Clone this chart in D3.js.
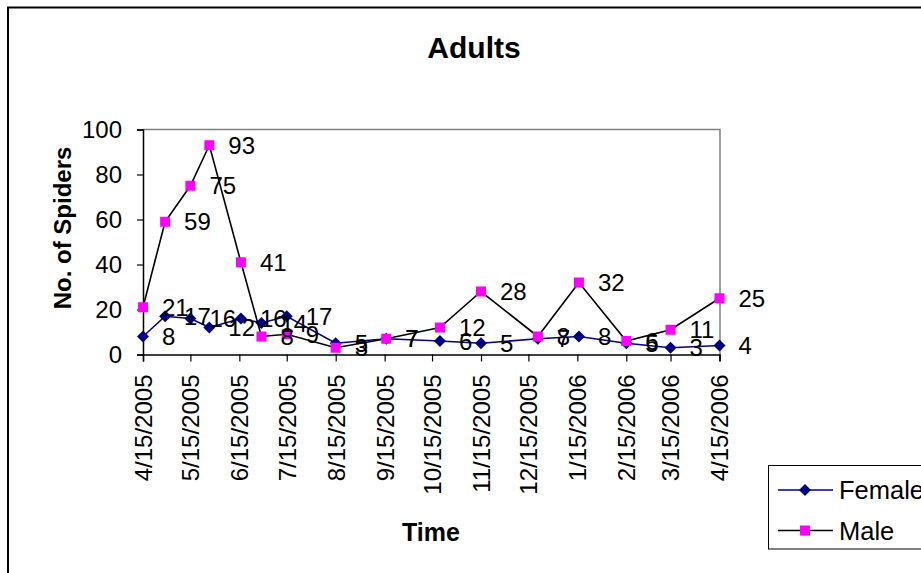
<!DOCTYPE html>
<html>
<head>
<meta charset="utf-8">
<script src="https://cdn.jsdelivr.net/npm/d3@7"></script>
<style>
  html, body { margin: 0; padding: 0; background: #fff; overflow: hidden; }
  svg { display: block; font-family: "Liberation Sans", Arial, sans-serif; }
</style>
</head>
<body>
<svg id="chart" width="921" height="573"></svg>
<script>
// Sampling dates and spider counts
const sampleDates = ["4/15/2005","4/29/2005","5/15/2005","5/27/2005","6/16/2005","6/29/2005","7/15/2005","8/15/2005",
                     "9/16/2005","10/20/2005","11/15/2005","12/21/2005","1/16/2006","2/15/2006","3/15/2006","4/15/2006"];
const femaleCounts = [8, 17, 16, 12, 16, 14, 17, 5, 7, 6, 5, 7, 8, 5, 3, 4];
const maleCounts   = [21, 59, 75, 93, 41, 8, 9, 3, 7, 12, 28, 8, 32, 6, 11, 25];

// Axis ticks
const xTickLabels = ["4/15/2005","5/15/2005","6/15/2005","7/15/2005","8/15/2005","9/15/2005","10/15/2005",
                     "11/15/2005","12/15/2005","1/15/2006","2/15/2006","3/15/2006","4/15/2006"];
const yTicks = [0, 20, 40, 60, 80, 100];

const parse = d3.timeParse("%m/%d/%Y");
const fmt = d3.timeFormat("%-m/%-d/%Y");

const svg = d3.select("#chart");

// Chart area frame
svg.append("rect")
  .attr("x", 8).attr("y", 7.5).attr("width", 960).attr("height", 600)
  .attr("fill", "#fff").attr("stroke", "#000").attr("stroke-width", 2);

const plot = { left: 143, right: 720, top: 129.5, bottom: 354.5 };

const x = d3.scaleTime()
  .domain([parse(xTickLabels[0]), parse(xTickLabels[xTickLabels.length - 1])])
  .range([plot.left, 719.5]);
const y = d3.scaleLinear().domain([0, 100]).range([plot.bottom, plot.top]);

// Plot area border (top and right in grey)
svg.append("path")
  .attr("d", `M${plot.left},${plot.top}H${plot.right}V${plot.bottom}`)
  .attr("fill", "none").attr("stroke", "#808080").attr("stroke-width", 1.5);

// Title
svg.append("text")
  .attr("x", 474).attr("y", 58)
  .attr("text-anchor", "middle")
  .attr("font-size", 30).attr("font-weight", "bold")
  .text("Adults");

// Y axis
const yAxis = svg.append("g")
  .attr("transform", `translate(${plot.left},0)`)
  .call(d3.axisLeft(y).tickValues(yTicks).tickSize(6).tickPadding(15).tickFormat(d3.format("d")));
yAxis.select(".domain").attr("stroke", "#000").attr("stroke-width", 1.5);
yAxis.selectAll(".tick line").attr("stroke", "#000").attr("stroke-width", 1.2);
yAxis.selectAll(".tick text").attr("font-size", 24).attr("font-family", "Liberation Sans, Arial, sans-serif").attr("fill", "#000");

// X axis
const xAxis = svg.append("g")
  .attr("transform", `translate(0,${plot.bottom})`)
  .call(d3.axisBottom(x).tickValues(xTickLabels.map(parse)).tickSize(7).tickFormat(fmt));
xAxis.select(".domain").attr("stroke", "#000").attr("stroke-width", 1.5);
xAxis.selectAll(".tick line").attr("stroke", "#000").attr("stroke-width", 1.2);
xAxis.selectAll(".tick text")
  .attr("font-size", 24).attr("font-family", "Liberation Sans, Arial, sans-serif").attr("fill", "#000")
  .attr("transform", "rotate(-90)")
  .attr("text-anchor", "end")
  .attr("x", -20).attr("y", 0).attr("dy", "0.35em");

// Axis titles
svg.append("text")
  .attr("transform", "translate(71,228) rotate(-90)")
  .attr("text-anchor", "middle")
  .attr("font-size", 24).attr("font-weight", "bold")
  .text("No. of Spiders");
svg.append("text")
  .attr("x", 431).attr("y", 541)
  .attr("text-anchor", "middle")
  .attr("font-size", 25).attr("font-weight", "bold")
  .text("Time");

// Markers: a square turned 45 degrees for females, an upright square for males
const series = [
  { name: "Female", values: femaleCounts, line: "#000080", fill: "#000080", rotate: 45, size: 72 },
  { name: "Male",   values: maleCounts,   line: "#000000", fill: "#FF00FF", rotate: 0,  size: 100 }
];

const lineGen = d3.line()
  .x(d => x(parse(d.date)))
  .y(d => y(d.v));

series.forEach(s => {
  const pts = sampleDates.map((d, i) => ({ date: d, v: s.values[i] }));
  s.pts = pts;
  svg.append("path")
    .datum(pts)
    .attr("d", lineGen)
    .attr("fill", "none")
    .attr("stroke", s.line)
    .attr("stroke-width", 1.6);
  svg.append("g").selectAll("path")
    .data(pts)
    .join("path")
    .attr("transform", d => `translate(${x(parse(d.date))},${y(d.v)}) rotate(${s.rotate})`)
    .attr("d", d3.symbol().type(d3.symbolSquare).size(s.size))
    .attr("fill", s.fill);
});

// Value labels
series.forEach(s => {
  svg.append("g").selectAll("text")
    .data(s.pts)
    .join("text")
    .attr("x", d => x(parse(d.date)) + 19)
    .attr("y", d => y(d.v))
    .attr("dy", "0.36em")
    .attr("font-size", 24)
    .attr("fill", "#000")
    .text(d => d.v);
});

// Legend
const legend = svg.append("g");
legend.append("rect")
  .attr("x", 768.5).attr("y", 465.5).attr("width", 200).attr("height", 83.5)
  .attr("fill", "#fff").attr("stroke", "#000").attr("stroke-width", 1);
series.forEach((s, i) => {
  const ly = 490 + i * 40.5;
  legend.append("line")
    .attr("x1", 778).attr("x2", 833).attr("y1", ly).attr("y2", ly)
    .attr("stroke", s.line).attr("stroke-width", 1.6);
  legend.append("path")
    .attr("transform", `translate(805,${ly}) rotate(${s.rotate})`)
    .attr("d", d3.symbol().type(d3.symbolSquare).size(s.size))
    .attr("fill", s.fill);
  legend.append("text")
    .attr("x", 839).attr("y", ly).attr("dy", "0.36em")
    .attr("font-size", 25.5)
    .text(s.name);
});
</script>
</body>
</html>
